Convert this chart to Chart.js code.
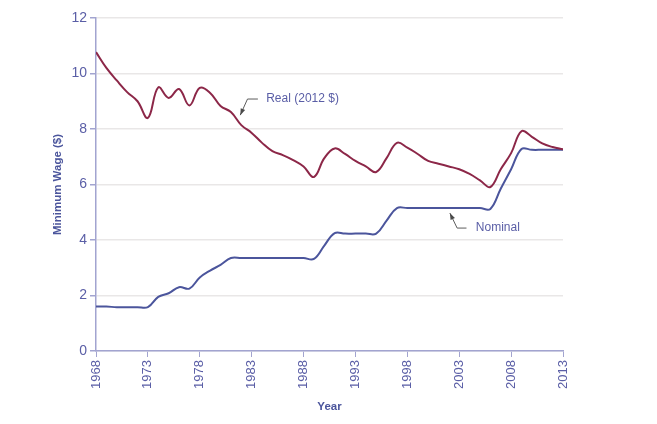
<!DOCTYPE html>
<html>
<head>
<meta charset="utf-8">
<script src="https://cdn.jsdelivr.net/npm/chart.js@4/dist/chart.umd.min.js"></script>
<style>
  html, body { margin: 0; padding: 0; background: #fff; }
  #wrap { width: 657px; height: 424px; position: relative; }
</style>
</head>
<body>
<div id="wrap"><canvas id="wageChart"></canvas></div>
<script>
// Minimum wage, yearly values
const years = [
  1968, 1969, 1970, 1971, 1972, 1973, 1974, 1975, 1976, 1977,
  1978, 1979, 1980, 1981, 1982, 1983, 1984, 1985, 1986, 1987,
  1988, 1989, 1990, 1991, 1992, 1993, 1994, 1995, 1996, 1997,
  1998, 1999, 2000, 2001, 2002, 2003, 2004, 2005, 2006, 2007,
  2008, 2009, 2010, 2011, 2012, 2013
];
const realWage = [
  10.77, 10.20, 9.75, 9.33, 9.00, 8.40, 9.50, 9.12, 9.44, 8.85,
  9.48, 9.30, 8.83, 8.61, 8.14, 7.86, 7.50, 7.20, 7.06, 6.88,
  6.65, 6.27, 6.95, 7.30, 7.10, 6.85, 6.65, 6.45, 6.95, 7.50,
  7.33, 7.10, 6.85, 6.75, 6.65, 6.55, 6.38, 6.15, 5.91, 6.55,
  7.13, 7.92, 7.72, 7.48, 7.35, 7.27
];
const nominalWage = [
  1.60, 1.60, 1.58, 1.58, 1.58, 1.58, 1.95, 2.08, 2.30, 2.25,
  2.65, 2.90, 3.10, 3.35, 3.35, 3.35, 3.35, 3.35, 3.35, 3.35,
  3.35, 3.32, 3.80, 4.25, 4.23, 4.23, 4.23, 4.23, 4.70, 5.15,
  5.15, 5.15, 5.15, 5.15, 5.15, 5.15, 5.15, 5.15, 5.12, 5.85,
  6.55, 7.28, 7.25, 7.25, 7.25, 7.25
];
const yTicks = [0, 2, 4, 6, 8, 10, 12];
const xTicks = [1968, 1973, 1978, 1983, 1988, 1993, 1998, 2003, 2008, 2013];

const labelColor = "#5a5ea6";
const axisColor = "#a2a4d0";

// callout labels, placed in data units
const callouts = [
  { text: "Real (2012 $)", at: [1984.4, 9.08], path: [[1983.6, 9.08], [1982.6, 9.08], [1981.9, 8.5]] },
  { text: "Nominal", at: [2004.6, 4.43], path: [[2003.7, 4.43], [2002.8, 4.43], [2002.1, 4.97]] }
];

const calloutPlugin = {
  id: "callouts",
  afterDatasetsDraw(chart) {
    const { ctx, scales: { x, y } } = chart;
    ctx.save();
    callouts.forEach((c) => {
      const pts = c.path.map((p) => [x.getPixelForValue(p[0]), y.getPixelForValue(p[1])]);
      ctx.strokeStyle = "#5c5c5c";
      ctx.lineWidth = 1;
      ctx.beginPath();
      pts.forEach((p, i) => (i ? ctx.lineTo(p[0], p[1]) : ctx.moveTo(p[0], p[1])));
      ctx.stroke();
      // arrow head at the end of the path
      const [a, b] = [pts[pts.length - 2], pts[pts.length - 1]];
      const ang = Math.atan2(b[1] - a[1], b[0] - a[0]);
      ctx.fillStyle = "#4a4a4a";
      ctx.beginPath();
      ctx.moveTo(b[0], b[1]);
      ctx.lineTo(b[0] - 7 * Math.cos(ang - 0.35), b[1] - 7 * Math.sin(ang - 0.35));
      ctx.lineTo(b[0] - 7 * Math.cos(ang + 0.35), b[1] - 7 * Math.sin(ang + 0.35));
      ctx.closePath();
      ctx.fill();

      ctx.fillStyle = labelColor;
      ctx.font = "12px 'Liberation Sans', Arial, sans-serif";
      ctx.textBaseline = "middle";
      ctx.textAlign = "left";
      ctx.fillText(c.text, x.getPixelForValue(c.at[0]), y.getPixelForValue(c.at[1]));
    });
    ctx.restore();
  }
};

new Chart(document.getElementById("wageChart").getContext("2d"), {
  type: "line",
  data: {
    datasets: [
      {
        label: "Real (2012 $)",
        data: years.map((yr, i) => ({ x: yr, y: realWage[i] })),
        borderColor: "#8c2748",
        borderWidth: 2,
        pointRadius: 0,
        tension: 0.4
      },
      {
        label: "Nominal",
        data: years.map((yr, i) => ({ x: yr, y: nominalWage[i] })),
        borderColor: "#4b559c",
        borderWidth: 2,
        pointRadius: 0,
        tension: 0.4
      }
    ]
  },
  options: {
    responsive: true,
    maintainAspectRatio: false,
    animation: false,
    layout: { padding: { top: 18, right: 94, left: 0, bottom: 0 } },
    plugins: { legend: { display: false }, tooltip: { enabled: false } },
    scales: {
      x: {
        type: "linear",
        min: 1968,
        max: 2013,
        afterBuildTicks: (s) => { s.ticks = xTicks.map((v) => ({ value: v })); },
        afterFit: (s) => { s.height = 73; },
        ticks: {
          color: labelColor,
          font: { family: "'Liberation Sans', Arial, sans-serif", size: 13 },
          maxRotation: 90,
          minRotation: 90,
          padding: 3,
          callback: (v) => String(v)
        },
        grid: { drawOnChartArea: false, drawTicks: true, tickLength: 6, tickColor: axisColor },
        border: { color: axisColor, width: 1.5 },
        title: {
          display: true,
          text: "Year",
          color: "#4b559c",
          font: { family: "'Liberation Sans', Arial, sans-serif", size: 11.5, weight: "bold" },
          padding: { top: 0, bottom: 10 }
        }
      },
      y: {
        min: 0,
        max: 12,
        afterBuildTicks: (s) => { s.ticks = yTicks.map((v) => ({ value: v })); },
        afterFit: (s) => { s.width = 96; },
        ticks: {
          color: labelColor,
          font: { family: "'Liberation Sans', Arial, sans-serif", size: 14 },
          padding: 3
        },
        grid: { color: "#e9e7e7", lineWidth: 1.5, tickLength: 6, tickColor: axisColor },
        border: { color: axisColor, width: 1.5 },
        title: {
          display: true,
          text: "Minimum Wage ($)",
          color: "#4b559c",
          font: { family: "'Liberation Sans', Arial, sans-serif", size: 11.5, weight: "bold" },
          padding: { top: 51, bottom: 0 }
        }
      }
    }
  },
  plugins: [calloutPlugin]
});
</script>
</body>
</html>
